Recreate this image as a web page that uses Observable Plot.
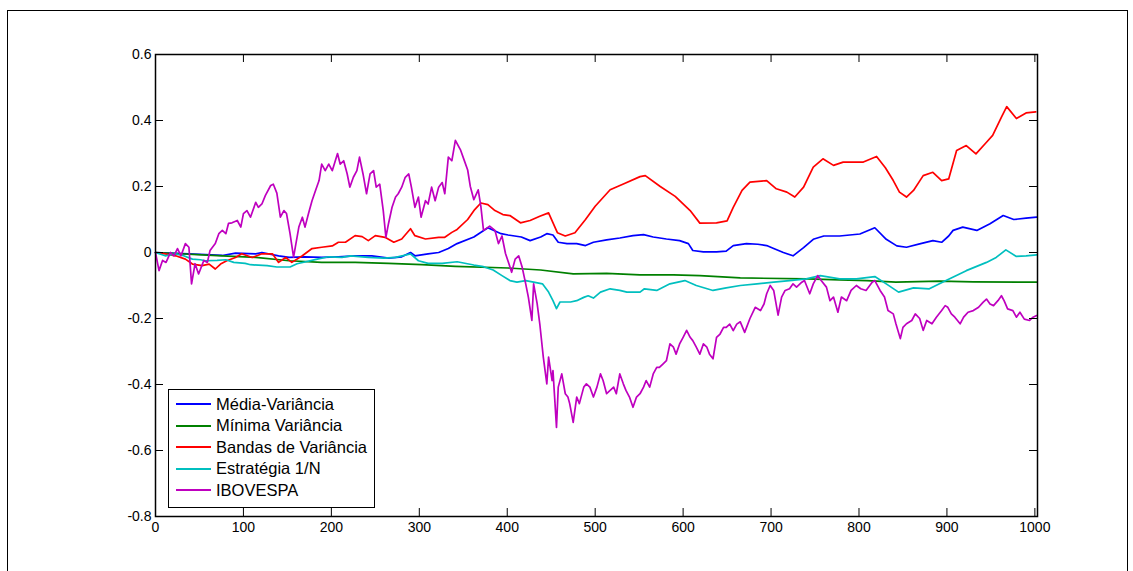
<!DOCTYPE html>
<html>
<head>
<meta charset="utf-8">
<script src="https://cdn.jsdelivr.net/npm/d3@7"></script>
<script src="https://cdn.jsdelivr.net/npm/@observablehq/plot@0.6"></script>
<style>
  html, body { margin: 0; padding: 0; background: #fff; overflow: hidden; }
  #wrap { position: relative; width: 1133px; height: 571px; font-family: "Liberation Sans", Arial, sans-serif; }
  #outer { position: absolute; left: 7px; top: 10px; width: 1119px; height: 600px; border: 1.5px solid #000; border-bottom: none; }
  #chart { position: absolute; left: 0; top: 0; }
  #legend { position: absolute; left: 168px; top: 389px; width: 205px; height: 117px; border: 1px solid #000; background: #fff; }
  .row { position: absolute; left: 0; height: 20px; display: flex; align-items: center; font-size: 16.5px; color: #000; white-space: nowrap; }
  .sw { width: 35px; height: 0; border-top: 2px solid; margin-left: 7px; margin-right: 5px; }
</style>
</head>
<body>
<div id="wrap">
  <div id="outer"></div>
  <div id="chart"></div>
  <div id="legend"></div>
</div>
<script>
// ---- Data ----
const seriesNames = ["Média-Variância", "Mínima Variância", "Bandas de Variância", "Estratégia 1/N", "IBOVESPA"];
const seriesColors = ["#0000ff", "#008000", "#ff0000", "#00bfbf", "#bf00bf"];

const xTicks = [0, 100, 200, 300, 400, 500, 600, 700, 800, 900, 1000];
const yTicks = [-0.8, -0.6, -0.4, -0.2, 0, 0.2, 0.4, 0.6];

// Média-Variância
const mvT = [0,38,76,91,114,121,140,152,170,189,208,227,246,265,280,290,295,310,322,333,343,362,378,393,401,416,426,438,445,452,458,468,479,489,498,513,528,543,555,566,581,596,606,611,623,638,649,657,672,685,695,703,714,725,737,748,760,778,801,818,831,843,854,869,884,894,902,907,918,934,949,964,976,990,1002];
const mvV = [0,-0.004,-0.009,-0.002,-0.004,0,-0.01,-0.015,-0.013,-0.015,-0.013,-0.01,-0.01,-0.017,-0.013,0,-0.01,-0.004,0,0.012,0.027,0.047,0.075,0.057,0.053,0.047,0.036,0.047,0.057,0.053,0.031,0.027,0.027,0.021,0.031,0.038,0.044,0.051,0.054,0.047,0.041,0.036,0.027,0.006,0.002,0.002,0.004,0.021,0.027,0.025,0.021,0.012,0,-0.01,0.015,0.04,0.05,0.05,0.056,0.075,0.04,0.02,0.016,0.026,0.036,0.031,0.05,0.067,0.077,0.067,0.087,0.112,0.1,0.104,0.107];

// Mínima Variância
const minT = [0,76,114,152,189,227,265,303,341,401,438,475,513,551,589,619,665,741,778,809,842,892,930,1002];
const minV = [0,-0.01,-0.015,-0.025,-0.03,-0.03,-0.033,-0.037,-0.042,-0.047,-0.053,-0.065,-0.063,-0.068,-0.068,-0.07,-0.077,-0.08,-0.083,-0.085,-0.09,-0.087,-0.089,-0.09];

// Bandas de Variância
const bvT = [0,11,23,34,42,53,61,68,74,81,91,98,110,121,133,140,148,155,167,178,189,201,208,216,227,235,242,250,261,271,280,290,295,307,322,329,337,343,355,363,370,378,386,395,403,415,426,437,447,457,466,477,489,500,517,534,551,557,574,591,608,619,638,650,657,667,676,695,706,718,727,737,748,759,771,782,794,805,820,830,839,846,854,862,873,884,894,902,911,922,933,945,952,962,968,979,990,1001];
const bvV = [0,-0.004,-0.01,-0.02,-0.035,-0.04,-0.035,-0.05,-0.035,-0.025,-0.015,-0.004,-0.015,-0.004,-0.004,-0.03,-0.015,-0.03,-0.01,0.012,0.016,0.02,0.031,0.031,0.051,0.048,0.036,0.051,0.046,0.031,0.041,0.072,0.051,0.041,0.046,0.046,0.061,0.07,0.1,0.13,0.15,0.145,0.127,0.115,0.112,0.09,0.097,0.11,0.12,0.06,0.05,0.06,0.1,0.14,0.19,0.21,0.23,0.233,0.2,0.17,0.127,0.089,0.09,0.096,0.137,0.188,0.213,0.218,0.193,0.183,0.168,0.198,0.259,0.284,0.264,0.274,0.274,0.274,0.291,0.257,0.218,0.183,0.168,0.188,0.233,0.243,0.218,0.223,0.309,0.324,0.299,0.334,0.355,0.41,0.442,0.406,0.423,0.426];

// Estratégia 1/N
const enT = [0,11,23,32,42,51,57,70,80,89,102,108,127,138,153,161,184,197,212,222,242,260,273,290,299,310,326,343,362,373,384,394,403,411,421,430,440,447,452,456,460,472,479,487,492,498,506,517,528,536,551,556,570,585,602,615,634,649,665,684,703,721,740,756,778,797,818,831,845,862,880,899,922,945,956,967,979,990,1002];
const enV = [0,-0.01,-0.004,-0.01,-0.02,-0.022,-0.025,-0.024,-0.022,-0.03,-0.033,-0.037,-0.04,-0.044,-0.044,-0.034,-0.02,-0.013,-0.015,-0.01,-0.015,-0.017,-0.015,-0.004,-0.025,-0.033,-0.033,-0.028,-0.038,-0.043,-0.053,-0.07,-0.085,-0.09,-0.085,-0.09,-0.095,-0.12,-0.146,-0.17,-0.15,-0.15,-0.146,-0.136,-0.131,-0.138,-0.12,-0.11,-0.115,-0.12,-0.12,-0.11,-0.115,-0.095,-0.085,-0.1,-0.115,-0.107,-0.1,-0.095,-0.09,-0.085,-0.08,-0.07,-0.08,-0.08,-0.073,-0.095,-0.12,-0.107,-0.11,-0.085,-0.055,-0.03,-0.015,0.008,-0.012,-0.01,-0.007];

// IBOVESPA
const ibT = [0,4,8,12,17,21,25,29,34,38,41,45,49,55,59,62,68,72,76,80,83,87,93,97,100,104,108,114,117,121,125,131,134,138,142,146,149,153,157,159,163,167,170,174,178,182,186,189,193,197,201,207,210,214,218,221,225,229,232,236,240,244,248,251,255,259,262,265,269,273,276,280,284,288,291,295,299,302,307,310,314,318,322,326,329,333,337,341,347,351,355,358,362,367,370,373,380,386,390,394,398,402,405,409,413,417,421,424,428,430,434,437,441,445,447,451,452,456,458,462,466,469,471,475,479,482,487,490,494,498,502,506,509,513,517,521,524,528,532,535,539,543,547,551,555,558,562,566,570,573,577,581,585,589,592,596,600,604,608,611,615,619,623,627,630,634,638,642,646,649,653,657,661,665,670,676,682,688,692,695,699,703,708,712,716,721,725,729,735,738,744,748,753,757,763,767,771,776,780,786,791,797,802,808,815,818,824,829,833,839,842,847,850,854,860,864,869,873,877,883,888,894,898,901,905,909,915,919,924,930,936,941,945,949,953,958,962,965,969,975,979,983,988,994,998,1002];
const ibV = [0,-0.055,-0.024,-0.03,0,-0.01,0.012,-0.01,0.027,0.016,-0.095,-0.034,-0.065,-0.024,-0.03,0.006,0.027,0.057,0.067,0.057,0.088,0.09,0.097,0.077,0.118,0.127,0.107,0.152,0.137,0.147,0.173,0.203,0.207,0.18,0.107,0.127,0.118,0.057,-0.014,0.016,0.077,0.107,0.077,0.118,0.157,0.188,0.218,0.268,0.248,0.268,0.248,0.3,0.268,0.278,0.238,0.198,0.228,0.248,0.289,0.238,0.178,0.238,0.248,0.198,0.207,0.127,0.046,0.088,0.137,0.168,0.178,0.198,0.228,0.238,0.198,0.137,0.168,0.107,0.157,0.147,0.198,0.157,0.198,0.212,0.178,0.289,0.278,0.34,0.31,0.28,0.25,0.2,0.16,0.19,0.14,0.067,0.08,0.067,0.027,0.05,-0.003,-0.035,-0.06,-0.02,-0.01,-0.045,-0.095,-0.135,-0.206,-0.095,-0.155,-0.216,-0.317,-0.398,-0.317,-0.388,-0.358,-0.53,-0.408,-0.368,-0.428,-0.438,-0.458,-0.515,-0.438,-0.458,-0.408,-0.398,-0.408,-0.438,-0.408,-0.368,-0.388,-0.428,-0.418,-0.408,-0.428,-0.368,-0.398,-0.418,-0.438,-0.469,-0.438,-0.428,-0.408,-0.388,-0.408,-0.368,-0.348,-0.348,-0.338,-0.328,-0.277,-0.287,-0.308,-0.277,-0.257,-0.236,-0.257,-0.267,-0.287,-0.308,-0.277,-0.287,-0.308,-0.322,-0.257,-0.247,-0.227,-0.227,-0.217,-0.237,-0.217,-0.21,-0.242,-0.2,-0.166,-0.176,-0.156,-0.125,-0.1,-0.115,-0.19,-0.135,-0.115,-0.11,-0.095,-0.105,-0.09,-0.085,-0.125,-0.095,-0.07,-0.085,-0.105,-0.146,-0.135,-0.181,-0.135,-0.146,-0.115,-0.1,-0.11,-0.115,-0.09,-0.085,-0.115,-0.135,-0.176,-0.186,-0.216,-0.261,-0.227,-0.216,-0.206,-0.186,-0.2,-0.236,-0.206,-0.216,-0.196,-0.176,-0.161,-0.166,-0.186,-0.196,-0.216,-0.196,-0.181,-0.176,-0.166,-0.151,-0.141,-0.156,-0.161,-0.146,-0.131,-0.146,-0.171,-0.176,-0.196,-0.181,-0.202,-0.206,-0.196,-0.191];

// ---- Build table ----
const tArrays = [mvT, minT, bvT, enT, ibT];
const vArrays = [mvV, minV, bvV, enV, ibV];
const data = [];
seriesNames.forEach((name, i) => {
  tArrays[i].forEach((t, j) => data.push({series: name, t, v: vArrays[i][j]}));
});

const W = 1133, H = 571;
const mL = 155, mR = 96, mT = 54, mB = 55;
const plotW = W - mL - mR, plotH = H - mT - mB;
const tickLen = 8;

const chart = Plot.plot({
  width: W, height: H,
  marginLeft: mL, marginRight: mR, marginTop: mT, marginBottom: mB,
  style: {fontFamily: '"Liberation Sans", Arial, sans-serif', fontSize: "14px", color: "#000", background: "transparent", overflow: "visible"},
  x: {domain: [0, 1003], label: null},
  y: {domain: [-0.8, 0.6], label: null},
  color: {domain: seriesNames, range: seriesColors},
  marks: [
    Plot.line(data, {x: "t", y: "v", z: "series", stroke: "series", strokeWidth: 1.7}),
    Plot.ruleX(xTicks, {x: d => d, stroke: "#000", strokeWidth: 1, insetTop: plotH - tickLen}),
    Plot.ruleX(xTicks, {x: d => d, stroke: "#000", strokeWidth: 1, insetBottom: plotH - tickLen}),
    Plot.ruleY(yTicks, {y: d => d, stroke: "#000", strokeWidth: 1, insetRight: plotW - tickLen}),
    Plot.ruleY(yTicks, {y: d => d, stroke: "#000", strokeWidth: 1, insetLeft: plotW - tickLen}),
    Plot.frame({stroke: "#000", strokeWidth: 1.5}),
    Plot.axisX(xTicks, {anchor: "bottom", label: null, tickSize: 0, tickPadding: 6, tickFormat: d => String(d), fontSize: 14}),
    Plot.axisY(yTicks, {anchor: "left", label: null, tickSize: 0, tickPadding: 4, tickFormat: d => (d === 0 ? "0" : d.toFixed(1)), fontSize: 14})
  ]
});
document.getElementById("chart").appendChild(chart);

// ---- Legend ----
const legend = document.getElementById("legend");
seriesNames.forEach((name, i) => {
  const row = document.createElement("div");
  row.className = "row";
  row.style.top = (4 + i * 21.6) + "px";
  const sw = document.createElement("span");
  sw.className = "sw";
  sw.style.borderTopColor = seriesColors[i];
  const tx = document.createElement("span");
  tx.textContent = name;
  row.appendChild(sw);
  row.appendChild(tx);
  legend.appendChild(row);
});
</script>
</body>
</html>
